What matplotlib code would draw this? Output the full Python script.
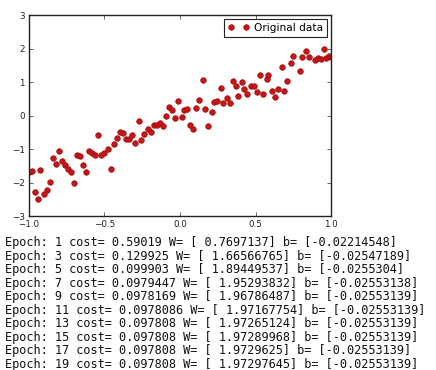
import matplotlib
matplotlib.use("Agg")
import matplotlib.pyplot as plt

# --- data ---
train_x = [-1.00, -0.98, -0.96, -0.94, -0.925, -0.90, -0.88, -0.86, -0.84, -0.82,
           -0.80, -0.78, -0.76, -0.74, -0.72, -0.70, -0.68, -0.66, -0.64, -0.62,
           -0.60, -0.58, -0.56, -0.54, -0.52, -0.50, -0.48, -0.46, -0.435, -0.42,
           -0.40, -0.38, -0.36, -0.34, -0.32, -0.30, -0.27, -0.255, -0.24, -0.215,
           -0.195, -0.17, -0.155, -0.135, -0.115, -0.09, -0.07, -0.05, -0.03, -0.01,
           0.01, 0.026, 0.048, 0.066, 0.088, 0.106, 0.126, 0.15, 0.166, 0.183,
           0.21, 0.225, 0.247, 0.27, 0.287, 0.31, 0.33, 0.35, 0.37, 0.386,
           0.41, 0.426, 0.446, 0.47, 0.49, 0.512, 0.53, 0.548, 0.574, 0.585,
           0.61, 0.63, 0.65, 0.673, 0.69, 0.706, 0.733, 0.75, 0.795, 0.81,
           0.834, 0.854, 0.894, 0.916, 0.934, 0.954, 0.97, 0.987, 1.0]
train_y = [-1.68, -1.66, -2.28, -2.50, -1.63, -2.33, -2.23, -1.98, -1.26, -1.44,
           -1.07, -1.36, -1.49, -1.61, -1.68, -2.00, -1.17, -1.20, -1.49, -1.70,
           -1.07, -1.12, -1.19, -0.59, -1.17, -1.11, -0.99, -1.60, -0.84, -0.66,
           -0.50, -0.52, -0.70, -0.70, -0.59, -0.81, -0.15, -0.74, -0.56, -0.40,
           -0.50, -0.29, -0.27, -0.23, -0.32, 0.00, 0.25, 0.17, -0.07, 0.43,
           -0.05, 0.15, 0.20, -0.29, -0.41, 0.23, 0.47, 1.06, 0.18, -0.32,
           0.09, 0.40, 0.42, 0.81, 0.37, 0.52, 0.37, 1.04, 0.89, 0.58,
           1.01, 0.79, 0.65, 0.87, 0.87, 0.70, 1.20, 0.65, 1.10, 1.21,
           0.72, 0.55, 0.80, 1.44, 0.72, 1.03, 1.56, 1.79, 1.34, 1.76,
           1.94, 1.76, 1.65, 1.72, 1.69, 1.98, 1.71, 1.78, 1.76]

epochs = [1, 3, 5, 7, 9, 11, 13, 15, 17, 19]
costs = ["0.59019", "0.129925", "0.099903", "0.0979447", "0.0978169",
         "0.0978086", "0.097808", "0.097808", "0.097808", "0.097808"]
weights = ["0.7697137", "1.66566765", "1.89449537", "1.95293832", "1.96786487",
           "1.97167754", "1.97265124", "1.97289968", "1.9729625", "1.97297645"]
biases = ["-0.02214548", "-0.02547189", "-0.0255304", "-0.02553138", "-0.02553139",
          "-0.02553139", "-0.02553139", "-0.02553139", "-0.02553139", "-0.02553139"]

# --- figure ---
fig = plt.figure(figsize=(4.36, 3.70), dpi=100, facecolor="white")
ax = fig.add_axes([0.0665, 0.4162, 0.6927, 0.5432])

ax.plot(train_x, train_y, "o", color="#c81414", markeredgecolor="#9a1010",
        markeredgewidth=0.5, markersize=4.0, label="Original data")

ax.set_xlim(-1, 1)
ax.set_ylim(-3, 3)
ax.set_xticks([-1.0, -0.5, 0.0, 0.5, 1.0])
ax.set_yticks([-3, -2, -1, 0, 1, 2, 3])
ax.tick_params(direction="in", top=True, right=True, length=3, width=0.5,
               labelsize=6.3, pad=3, colors="#222222")
for s in ax.spines.values():
    s.set_color("#222222")
    s.set_linewidth(1.0)

leg = ax.legend(loc="upper right", numpoints=2, fontsize=7.6, fancybox=False,
                framealpha=1, borderaxespad=0.4, handletextpad=0.5,
                borderpad=0.35)
leg.get_frame().set_edgecolor("#222222")
leg.get_frame().set_linewidth(0.8)

# training log printed under the plot
for i in range(len(epochs)):
    line = "Epoch: %d cost= %s W= [ %s] b= [%s]" % (epochs[i], costs[i], weights[i], biases[i])
    y_px = 242.7 + i * 13.5
    fig.text(5 / 436, 1 - y_px / 370, line, family="DejaVu Sans Mono",
             fontsize=8.6, color="#111111", va="center", ha="left")

fig.savefig("out.png", dpi=100)
